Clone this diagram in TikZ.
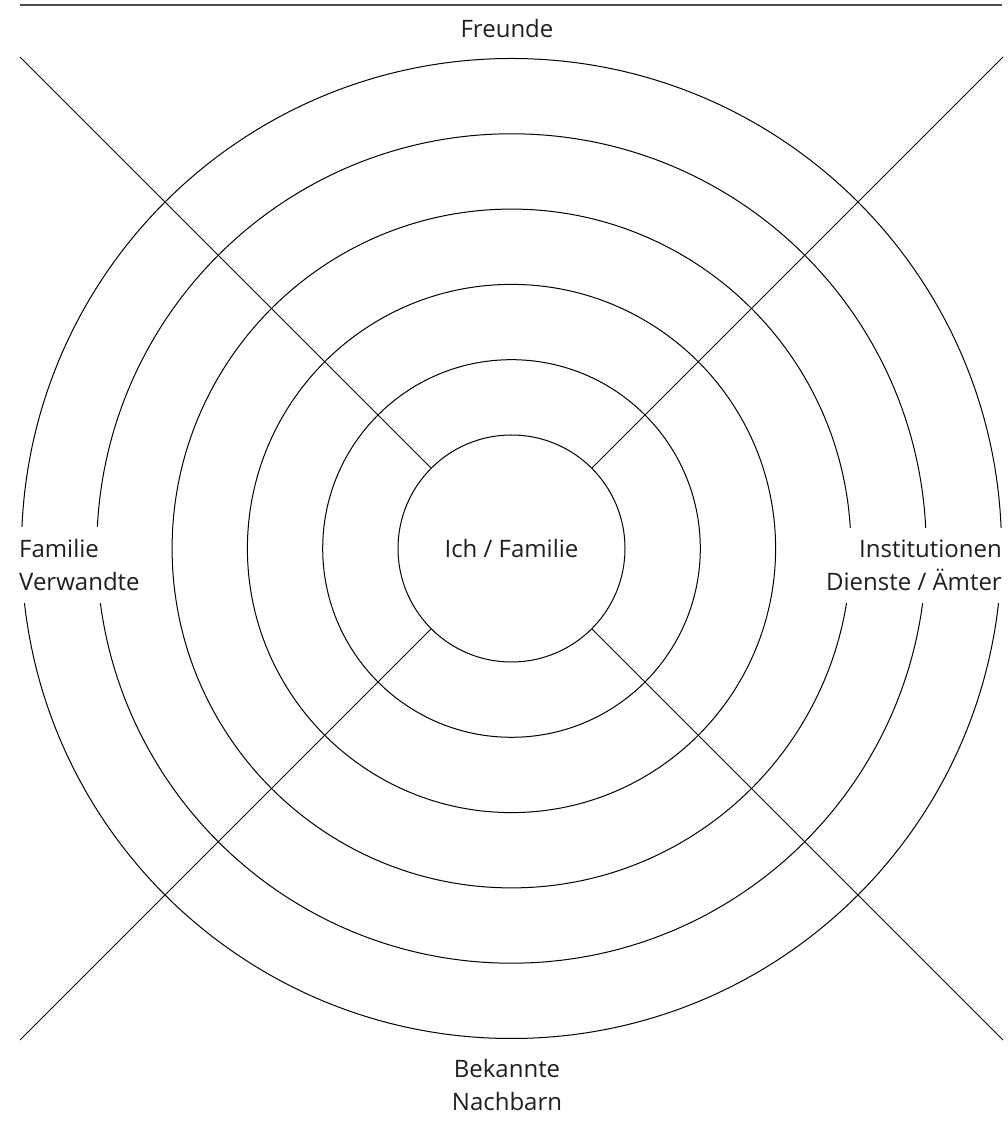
\documentclass[tikz,border=0pt]{standalone}
\usepackage{fontspec}
\setmainfont{Open Sans}
\begin{document}
\begin{tikzpicture}[x=1pt,y=1pt,
  ring/.style={draw=black,line width=1pt},
  spoke/.style={draw=black,line width=1pt},
  lbl/.style={font=\fontsize{24}{33}\selectfont,text=black!88,inner sep=0pt},
  sidelbl/.style={lbl,fill=white,inner xsep=8pt,inner ysep=12pt}]
\useasboundingbox (0,0) rectangle (1007,1124);
\coordinate (C) at (511.5,575.5);
% rings
\foreach \r in {188.8,264.1,339.4,414.7,490} {
  \draw[ring] (C) circle[radius=\r];
}
% core
\node[ring,circle,minimum size=227pt,inner sep=0pt,outer sep=0pt,
      font=\fontsize{24}{33}\selectfont,text=black!88] (core) at (C) {Ich / Familie};
% spoke ends
\coordinate (TL) at (20,1067);
\coordinate (TR) at (1003,1067);
\coordinate (BL) at (20,84);
\coordinate (BR) at (1003,84);
\draw[spoke] (core.135) -- (TL);
\draw[spoke] (core.45) -- (TR);
\draw[spoke] (core.225) -- (BL);
\draw[spoke] (core.315) -- (BR);
% top rule
\coordinate (RL) at (20,1119);
\coordinate (RR) at (1002,1119);
\draw[draw=black!70,line width=1.2pt] (RL) -- (RR);
% labels
\node[lbl,anchor=base] (freunde) at (507,1086) {Freunde};
\node[sidelbl,anchor=base west,align=left] (familie) at (11,533.3) {Familie\\Verwandte};
\node[sidelbl,anchor=base east,align=right] (inst) at (1010,533.3) {Institutionen\\Dienste / Ämter};
\node[lbl,anchor=base,align=center] (bekannte) at (507,13.3) {Bekannte\\Nachbarn};
\end{tikzpicture}
\end{document}
